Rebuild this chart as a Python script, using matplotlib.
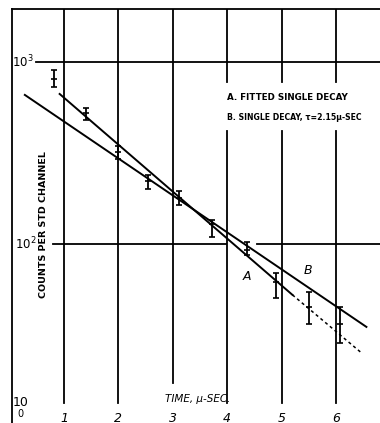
import numpy as np
import matplotlib.pyplot as plt

# data (time in micro-sec, counts per std channel)
t_pts = [0.81, 1.40, 1.99, 2.55, 3.12, 3.73, 4.36, 4.89, 5.50, 6.07]
counts = [807, 525, 320, 222, 179, 129, 92.6, 61.6, 45, 36.4]
err_lo = [730, 480, 293, 200, 164, 109, 87, 50.5, 36.3, 28.6]
err_hi = [904, 559, 345, 239, 195, 136, 103, 69, 54.5, 45]

# line A: fitted single decay (solid, then dotted tail)
a_t = [0.92, 5.20, 6.49]
a_c = [667, 52.5, 24.9]
# line B: single decay, tau = 2.15 us
b_t = [0.28, 6.56]
b_c = [659, 35.0]

x_ticks = [1, 2, 3, 4, 5, 6]

W, H = 380, 423
fig = plt.figure(figsize=(W / 100, H / 100), dpi=100)
ax = fig.add_axes([12 / W, 0, 368 / W, 414 / H])
ax.set_yscale('log')
ax.set_xlim(0.044, 6.81)
ax.set_ylim(10 ** 1.016, 10 ** 3.291)
ax.set_xticks([])
ax.set_yticks([])
ax.minorticks_off()
for s in ['bottom', 'right']:
    ax.spines[s].set_visible(False)
for s in ['left', 'top']:
    ax.spines[s].set_linewidth(1.3)

xt = ax.get_xaxis_transform()


def pyfrac(py):
    # figure pixel row -> axes fraction
    return (423 - py) / 414


# vertical grid lines, broken around the texts
for x in x_ticks:
    bottom = 383 if x == 3 else 403
    if x >= 4:
        ax.plot([x, x], [pyfrac(131), pyfrac(bottom)], color='k', lw=1.3, transform=xt)
        ax.plot([x, x], [pyfrac(82), 1], color='k', lw=1.3, transform=xt)
    else:
        ax.plot([x, x], [pyfrac(bottom), 1], color='k', lw=1.3, transform=xt)

# horizontal grid lines
ax.plot([0.49, 6.81], [1000, 1000], color='k', lw=1.3)
ax.plot([0.80, 3.98], [100, 100], color='k', lw=1.3)
ax.plot([4.55, 6.81], [100, 100], color='k', lw=1.3)

# fit lines
ax.plot(a_t[:2], a_c[:2], color='k', lw=1.4)
ax.plot(a_t[1:], a_c[1:], color='k', lw=1.1, ls=(0, (2, 2)))
ax.plot(b_t, b_c, color='k', lw=1.4)

# data with error bars
c = np.array(counts)
yerr = [c - np.array(err_lo), np.array(err_hi) - c]
ax.errorbar(t_pts, counts, yerr=yerr, fmt='_', color='k', ms=5, mew=1.2,
            elinewidth=1.3, capsize=2.5, capthick=1.2)

# tick labels
for x in x_ticks:
    ax.text(x, pyfrac(418), str(x), transform=xt, ha='center', va='center',
            fontsize=9, style='italic')
ax.text(0.2, pyfrac(414), '0', transform=xt, ha='center', va='center', fontsize=7)
ax.text(0.2, pyfrac(402), '10', transform=xt, ha='center', va='center', fontsize=9)
ax.text(0.25, 1000, '10$^3$', ha='center', va='center', fontsize=8.5)
ax.text(0.30, 100, '10$^2$', ha='center', va='center', fontsize=8.5)

# labels
ax.text(3.45, pyfrac(399), 'TIME, µ-SEC.', transform=xt, ha='center', va='center',
        fontsize=7.5, style='italic')
ax.text(0.62, pyfrac(225), 'COUNTS PER STD CHANNEL', transform=xt, rotation=90,
        ha='center', va='center', fontsize=6.8, fontweight='bold')
ax.text(4.0, pyfrac(97), 'A. FITTED SINGLE DECAY', transform=xt, ha='left',
        va='center', fontsize=6.3, fontweight='bold')
ax.text(4.0, pyfrac(117), 'B. SINGLE DECAY, τ=2.15µ-SEC', transform=xt, ha='left',
        va='center', fontsize=5.6, fontweight='bold')
ax.text(4.37, pyfrac(277), 'A', transform=xt, ha='center', va='center',
        fontsize=9, style='italic')
ax.text(5.48, pyfrac(271), 'B', transform=xt, ha='center', va='center',
        fontsize=9, style='italic')

fig.savefig('out.png', dpi=100, facecolor='white')
